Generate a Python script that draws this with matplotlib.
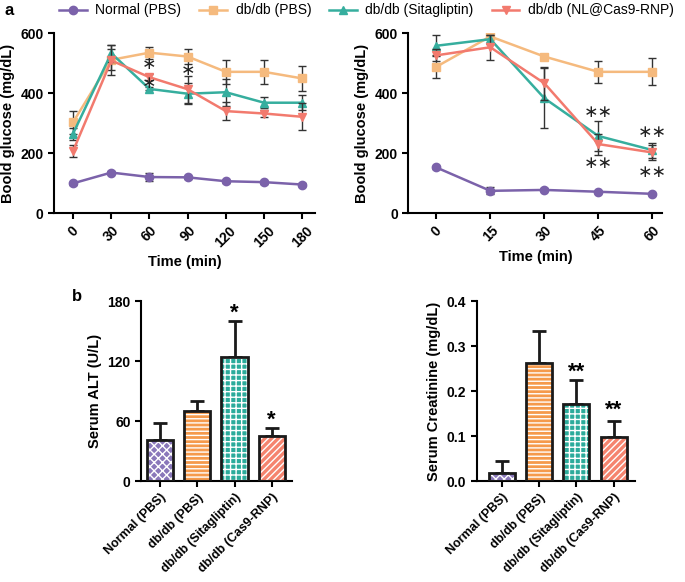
import matplotlib
matplotlib.use("Agg")
import matplotlib.pyplot as plt
from matplotlib.lines import Line2D
import numpy as np

plt.rcParams['font.family'] = ['Liberation Sans', 'DejaVu Sans']
plt.rcParams['hatch.linewidth'] = 1.0

# ---- data ----
groups = ["Normal (PBS)", "db/db (PBS)", "db/db (Sitagliptin)", "db/db (NL@Cas9-RNP)"]
bar_labels = ["Normal (PBS)", "db/db (PBS)", "db/db (Sitagliptin)", "db/db (Cas9-RNP)"]

t_a1 = [0, 30, 60, 90, 120, 150, 180]
normal_a1 = [99, 135, 120, 119, 106, 103, 95]
normal_a1_err = [6, 6, 12, 6, 5, 5, 5]
pbs_a1 = [303, 511, 535, 522, 471, 471, 449]
pbs_a1_err = [38, 35, 20, 24, 40, 40, 42]
sita_a1 = [265, 533, 414, 398, 403, 368, 368]
sita_a1_err = [20, 28, 5, 35, 45, 18, 25]
cas_a1 = [207, 509, 453, 413, 340, 332, 321]
cas_a1_err = [20, 50, 10, 45, 30, 12, 45]

t_a2 = [0, 15, 30, 45, 60]
normal_a2 = [152, 74, 77, 71, 64]
normal_a2_err = [4, 12, 5, 4, 4]
pbs_a2 = [488, 589, 522, 471, 471]
pbs_a2_err = [38, 10, 8, 36, 45]
sita_a2 = [558, 580, 383, 257, 210]
sita_a2_err = [35, 15, 100, 50, 25]
cas_a2 = [526, 553, 433, 230, 202]
cas_a2_err = [20, 42, 55, 35, 25]

alt_vals = [41, 70, 124, 45]
alt_err = [17, 10, 36, 8]
cre_vals = [0.017, 0.262, 0.172, 0.099]
cre_err = [0.028, 0.071, 0.053, 0.034]

line_colors = ["#7B62AA", "#F5BA7E", "#36AE9E", "#F27A6E"]
markers = ["o", "s", "^", "v"]
bar_colors = ["#8A78BA", "#F59A4C", "#2BAB9B", "#F5846F"]
hatches = ["xxxx", "----", "+++", "/////"]

fig = plt.figure(figsize=(6.85, 5.82), dpi=100)

def style_ax(ax, xlabsize=10):
    for s in ["top", "right"]:
        ax.spines[s].set_visible(False)
    for s in ["left", "bottom"]:
        ax.spines[s].set_linewidth(1.5)
    ax.tick_params(width=1.5, length=4, labelsize=10)
    ax.tick_params(axis="x", labelsize=xlabsize)
    for lab in ax.get_xticklabels() + ax.get_yticklabels():
        lab.set_fontweight("bold")

def line_panel(ax, t, series, errs, xlim):
    for i, (y, e) in enumerate(zip(series, errs)):
        ax.errorbar(t, y, yerr=e, color=line_colors[i], marker=markers[i], ms=6,
                    lw=1.8, ecolor="#333333", elinewidth=1.0, capsize=3, capthick=1.0,
                    zorder=3 + i)
    ax.set_xlim(*xlim)
    ax.set_ylim(0, 600)
    ax.set_yticks([0, 200, 400, 600])
    ax.set_xticks(t)
    ax.set_xticklabels([str(v) for v in t], rotation=45, ha="center", fontweight="bold")
    ax.set_xlabel("Time (min)", fontsize=10.5, fontweight="bold")
    ax.set_ylabel("Boold glucose (mg/dL)", fontsize=10.5, fontweight="bold")
    style_ax(ax)

ax1 = fig.add_axes([0.0788, 0.634, 0.381, 0.309])
line_panel(ax1, t_a1, [normal_a1, pbs_a1, sita_a1, cas_a1],
           [normal_a1_err, pbs_a1_err, sita_a1_err, cas_a1_err], (-15, 190))
star_kw = dict(ha="center", va="center", fontsize=12.5, color="#222222",
               family="DejaVu Sans", zorder=10)
ax1.text(60, 496, "\u2217", **star_kw)
ax1.text(60, 434, "\u2217", **star_kw)
ax1.text(90, 478, "\u2217", **star_kw)

ax2 = fig.add_axes([0.596, 0.634, 0.371, 0.309])
line_panel(ax2, t_a2, [normal_a2, pbs_a2, sita_a2, cas_a2],
           [normal_a2_err, pbs_a2_err, sita_a2_err, cas_a2_err], (-7.8, 62.8))
for x, y in [(45, 336), (45, 166), (60, 270), (60, 138)]:
    ax2.text(x, y, "\u2217\u2217", **star_kw)

def bar_panel(ax, vals, errs, ylim, yticks, ylabel, xlim, fmt):
    x = np.arange(len(vals))
    for i in range(len(vals)):
        ax.bar(x[i], vals[i], width=0.7, color=bar_colors[i], edgecolor="white",
               hatch=hatches[i], linewidth=0, zorder=2)
        ax.bar(x[i], vals[i], width=0.7, fill=False, edgecolor="#1a1a1a",
               linewidth=2.0, zorder=3)
        ax.errorbar(x[i], vals[i], yerr=[[0], [errs[i]]], color="#1a1a1a",
                    elinewidth=2.0, capsize=5, capthick=2.0, zorder=1)
    ax.set_xlim(*xlim)
    ax.set_ylim(*ylim)
    ax.set_yticks(yticks)
    ax.set_yticklabels([fmt(v) for v in yticks])
    ax.set_xticks(x)
    ax.set_xticklabels(bar_labels, rotation=45, ha="right", rotation_mode="anchor",
                       fontweight="bold")
    ax.set_ylabel(ylabel, fontsize=10.5, fontweight="bold")
    style_ax(ax, xlabsize=9)

ax3 = fig.add_axes([0.206, 0.1735, 0.22, 0.309])
bar_panel(ax3, alt_vals, alt_err, (0, 180), [0, 60, 120, 180], "Serum ALT (U/L)",
          (-0.51, 3.54), lambda v: f"{v:g}")
ax3.text(2, 168, "*", ha="center", va="center", fontsize=16, fontweight="bold")
ax3.text(3, 61, "*", ha="center", va="center", fontsize=16, fontweight="bold")

ax4 = fig.add_axes([0.696, 0.1735, 0.231, 0.309])
bar_panel(ax4, cre_vals, cre_err, (0, 0.4), [0, 0.1, 0.2, 0.3, 0.4],
          "Serum Creatinine (mg/dL)", (-0.67, 3.57), lambda v: f"{v:.1f}")
ax4.text(2, 0.243, "**", ha="center", va="center", fontsize=16, fontweight="bold")
ax4.text(3, 0.158, "**", ha="center", va="center", fontsize=16, fontweight="bold")

# legend
handles = [Line2D([0], [0], color=line_colors[i], marker=markers[i], ms=6, lw=1.8)
           for i in range(4)]
fig.legend(handles, groups, loc="center", bbox_to_anchor=(0.535, 0.982), ncol=4,
           frameon=False, fontsize=10, handlelength=2.0, columnspacing=1.3,
           handletextpad=0.6, borderaxespad=0, borderpad=0)

fig.text(0.007, 0.982, "a", fontsize=12, fontweight="bold", va="center")
fig.text(0.105, 0.49, "b", fontsize=12, fontweight="bold", va="center")

fig.savefig("out.png", dpi=100, facecolor="white")
